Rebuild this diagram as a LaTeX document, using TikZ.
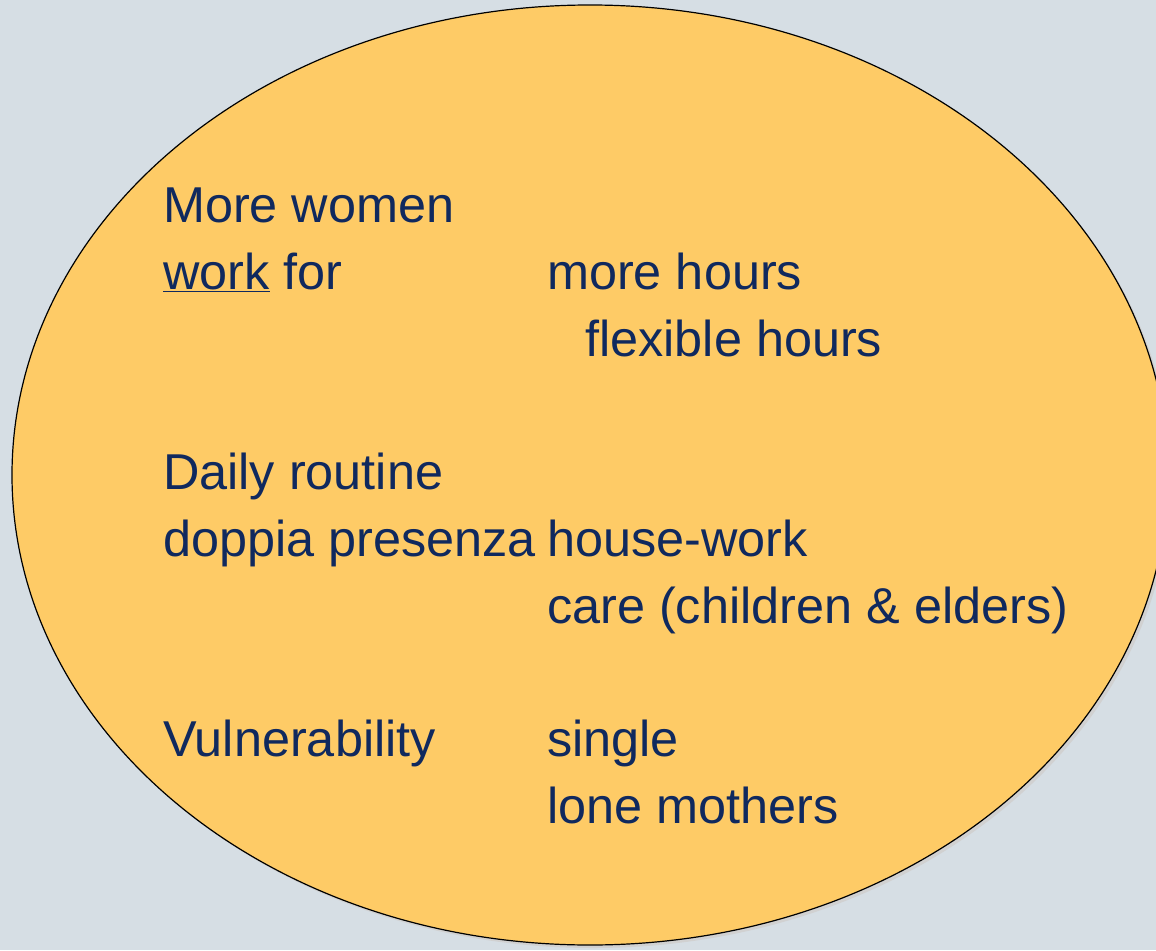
\documentclass[tikz,border=0pt]{standalone}
\usepackage{fontspec}
\setmainfont{Liberation Sans}
\usepackage{tikz}
\usetikzlibrary{shapes.geometric,positioning}
\definecolor{bgblue}{HTML}{D6DEE4}
\definecolor{blobfill}{HTML}{FECB66}
\definecolor{navy}{HTML}{10295E}

\begin{document}
\begin{tikzpicture} [
      x = 1pt, y = -1pt,
      blob/.style = { draw = black, fill = blobfill, line width = 1.2pt },
      shade/.style = { fill = black!18 },
      every node/.style = { anchor = base west, inner sep = 0, text = navy,
                            font = \fontsize{50.4}{60}\selectfont }
      ]
      \useasboundingbox (0,0) rectangle (1156,950);
      \fill [bgblue] (0,0) rectangle (1156,950);
      \clip (0,0) rectangle (1156,950);

      % the big circle
      \fill [shade] (593,478) ellipse [x radius = 578pt, y radius = 470pt];
      \draw [blob] (590,475) ellipse [x radius = 578pt, y radius = 470pt];

      \node (women) at (163,222) {More women};
      \node (work)  at (163,289) {\underline{work} for};
      \node (more)  at (547,289) {more hours};
      \node (flex)  at (585,356) {flexible hours};

      \node (daily)  at (163,489) {Daily routine};
      \node (doppia) at (163,556) {doppia presenza};
      \node (house)  at (547,556) {house-work};
      \node (care)   at (547,623) {care (children \& elders)};

      \node (vuln)   at (163,756) {Vulnerability};
      \node (single) at (547,756) {single};
      \node (lone)   at (547,823) {lone mothers};
\end{tikzpicture}
\end{document}
